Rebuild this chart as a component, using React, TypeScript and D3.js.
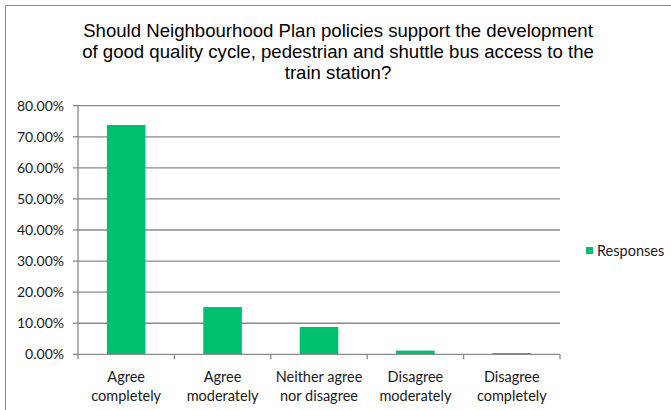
import React from "react";
import * as d3 from "d3";

const categories: string[][] = [
  ["Agree", "completely"],
  ["Agree", "moderately"],
  ["Neither agree", "nor disagree"],
  ["Disagree", "moderately"],
  ["Disagree", "completely"],
];
const values: number[] = [0.738, 0.152, 0.088, 0.012, 0.004];
const yTicks: number[] = [0, 0.1, 0.2, 0.3, 0.4, 0.5, 0.6, 0.7, 0.8];
const titleLines: string[] = [
  "Should Neighbourhood Plan policies support the development",
  "of good quality cycle, pedestrian and shuttle bus access to the",
  "train station?",
];
const seriesName = "Responses";

const W = 671;
const H = 410;
const left = 78;
const right = 560;
const top = 105.7;
const bottom = 354.3;
const bodyFont = "Lato, 'Open Sans', sans-serif";

export default function App() {
  const x = d3
    .scaleBand<number>()
    .domain(categories.map((_, i) => i))
    .range([left, right])
    .paddingInner(0.6)
    .paddingOuter(0.3);
  const y = d3.scaleLinear().domain([0, 0.8]).range([bottom, top]);
  const step = (right - left) / categories.length;
  const fmt = d3.format(".2%");

  return (
    <svg
      width={W}
      height={H}
      style={{ position: "absolute", left: 0, top: 0, background: "#fff" }}
    >
      <rect x={5.5} y={5.5} width={700} height={420} fill="#fff" stroke="#8c8c8c" strokeWidth={1} />
      {titleLines.map((t, i) => (
        <text
          key={i}
          x={338}
          y={36.5 + i * 21}
          textAnchor="middle"
          fontFamily="'Liberation Sans', Arial, sans-serif"
          fontSize={18.6}
          fill="#000"
        >
          {t}
        </text>
      ))}
      {yTicks.map((t) => (
        <g key={t}>
          {t > 0 && (
            <line x1={left} x2={right} y1={y(t)} y2={y(t)} stroke="#8a8a8a" strokeWidth={1.3} />
          )}
          <line x1={left - 5} x2={left} y1={y(t)} y2={y(t)} stroke="#8a8a8a" strokeWidth={1.3} />
          <text
            x={64}
            y={y(t)}
            dy="0.35em"
            textAnchor="end"
            fontFamily={bodyFont}
            fontSize={14}
            fill="#1a1a1a"
          >
            {fmt(t)}
          </text>
        </g>
      ))}
      <line x1={left} x2={left} y1={top} y2={bottom} stroke="#8a8a8a" strokeWidth={1.3} />
      {values.map((v, i) => (
        <rect
          key={i}
          x={x(i)}
          y={y(v)}
          width={x.bandwidth()}
          height={bottom - y(v)}
          fill="#00bf6f"
        />
      ))}
      <line x1={left} x2={right} y1={bottom} y2={bottom} stroke="#8a8a8a" strokeWidth={1.3} />
      {d3.range(categories.length + 1).map((i) => (
        <line
          key={i}
          x1={left + i * step}
          x2={left + i * step}
          y1={bottom}
          y2={bottom + 5}
          stroke="#8a8a8a"
          strokeWidth={1.3}
        />
      ))}
      {categories.map((lines, i) => (
        <text
          key={i}
          x={left + (i + 0.5) * step}
          textAnchor="middle"
          fontFamily={bodyFont}
          fontSize={14.5}
          fill="#1a1a1a"
        >
          {lines.map((l, j) => (
            <tspan key={j} x={left + (i + 0.5) * step} y={382 + j * 18.5}>
              {l}
            </tspan>
          ))}
        </text>
      ))}
      <rect x={586} y={247} width={7} height={7} fill="#00bf6f" />
      <text x={597} y={255.5} fontFamily={bodyFont} fontSize={14.5} fill="#1a1a1a">
        {seriesName}
      </text>
    </svg>
  );
}
